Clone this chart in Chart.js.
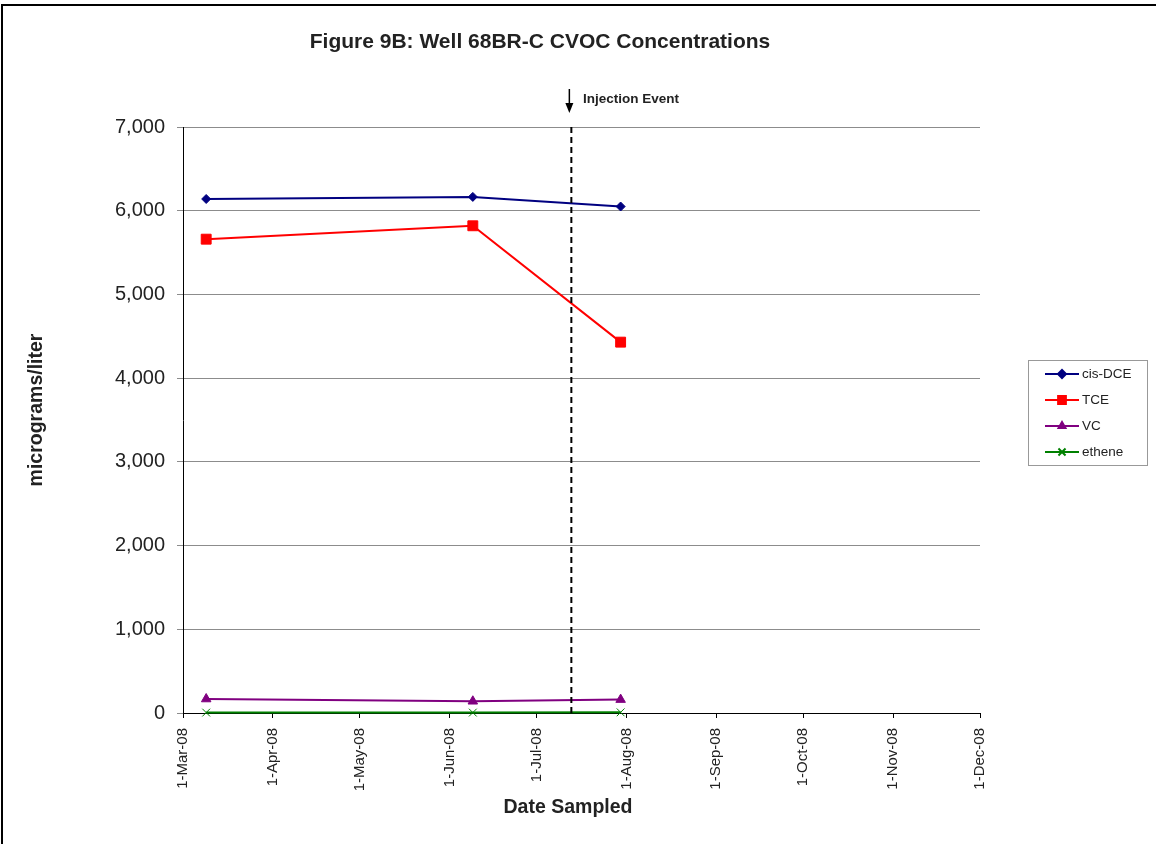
<!DOCTYPE html>
<html>
<head>
<meta charset="utf-8">
<script src="https://cdn.jsdelivr.net/npm/chart.js@4"></script>
<style>
  html, body { margin: 0; padding: 0; background: #fff; }
  #wrap { width: 1156px; height: 844px; }
</style>
</head>
<body>
<div id="wrap"><canvas id="chart-cvoc" width="1156" height="844"></canvas></div>
<script>
// Sampling dates and concentrations (ug/L)
var sampleDates = ['2008-03-09', '2008-06-09', '2008-07-30'];
var cisDCE = [6140, 6165, 6050];
var TCE = [5660, 5820, 4430];
var VC = [167, 140, 160];
var ethene = [5, 5, 8];

// Axis ticks
var monthTicks = ['2008-03-01', '2008-04-01', '2008-05-01', '2008-06-01', '2008-07-01',
                  '2008-08-01', '2008-09-01', '2008-10-01', '2008-11-01', '2008-12-01'];
var monthLabels = ['1-Mar-08', '1-Apr-08', '1-May-08', '1-Jun-08', '1-Jul-08',
                   '1-Aug-08', '1-Sep-08', '1-Oct-08', '1-Nov-08', '1-Dec-08'];
var injectionDate = '2008-07-13';

var FONT = '"Liberation Sans", Arial, sans-serif';

// days since 1-Mar-08, used as the linear x value
function dayOf(s) {
    var p = s.split('-');
    return (Date.UTC(+p[0], +p[1] - 1, +p[2]) - Date.UTC(2008, 2, 1)) / 86400000;
}
var tickDays = monthTicks.map(dayOf);
var sampleDays = sampleDates.map(dayOf);

function points(values) {
    return values.map(function (v, i) { return { x: sampleDays[i], y: v }; });
}

var seriesStyle = [
    { label: 'cis-DCE', data: cisDCE, color: '#000080', pointStyle: 'rectRot', radius: 4.5, legendRadius: 4 },
    { label: 'TCE', data: TCE, color: '#ff0000', pointStyle: 'rect', radius: 7, legendRadius: 5.5 },
    { label: 'VC', data: VC, color: '#800080', pointStyle: 'triangle', radius: 5.5, legendRadius: 4 },
    { label: 'ethene', data: ethene, color: '#008000', pointStyle: 'crossRot', radius: 5.5, legendRadius: 5 }
];

var decorations = {
    id: 'decorations',
    afterDatasetsDraw: function (chart) {
        var ctx = chart.ctx, area = chart.chartArea;
        var x = chart.scales.x.getPixelForValue(dayOf(injectionDate));
        ctx.save();
        ctx.strokeStyle = '#000';
        ctx.lineWidth = 2;
        ctx.setLineDash([6, 4]);
        ctx.beginPath();
        ctx.moveTo(x, area.top);
        ctx.lineTo(x, area.bottom);
        ctx.stroke();
        ctx.restore();
    },
    afterDraw: function (chart) {
        var ctx = chart.ctx;
        ctx.save();

        // outer frame
        ctx.strokeStyle = '#000';
        ctx.lineWidth = 2;
        ctx.strokeRect(2, 5, 1170, 860);

        // title
        ctx.fillStyle = '#222';
        ctx.textAlign = 'center';
        ctx.textBaseline = 'alphabetic';
        ctx.font = 'bold 21px ' + FONT;
        ctx.fillText('Figure 9B: Well 68BR-C CVOC Concentrations', 540, 48);

        // axis titles
        ctx.font = 'bold 19.5px ' + FONT;
        ctx.fillText('Date Sampled', 568, 813);
        ctx.save();
        ctx.translate(42, 410);
        ctx.rotate(-Math.PI / 2);
        ctx.fillText('micrograms/liter', 0, 0);
        ctx.restore();

        // injection arrow + label
        var ax = chart.scales.x.getPixelForValue(dayOf(injectionDate)) - 2;
        ctx.strokeStyle = '#000';
        ctx.fillStyle = '#000';
        ctx.lineWidth = 1.5;
        ctx.beginPath();
        ctx.moveTo(ax, 89);
        ctx.lineTo(ax, 105);
        ctx.stroke();
        ctx.beginPath();
        ctx.moveTo(ax - 4, 103);
        ctx.lineTo(ax + 4, 103);
        ctx.lineTo(ax, 113);
        ctx.closePath();
        ctx.fill();
        ctx.fillStyle = '#222';
        ctx.textAlign = 'left';
        ctx.font = 'bold 13.5px ' + FONT;
        ctx.fillText('Injection Event', 583, 103);

        // legend
        ctx.strokeStyle = '#999';
        ctx.lineWidth = 1;
        ctx.strokeRect(1028.5, 360.5, 119, 105);
        ctx.font = '13.5px ' + FONT;
        ctx.textBaseline = 'middle';
        seriesStyle.forEach(function (s, i) {
            var y = 374 + i * 26;
            ctx.strokeStyle = s.color;
            ctx.lineWidth = 2;
            ctx.beginPath();
            ctx.moveTo(1045, y);
            ctx.lineTo(1079, y);
            ctx.stroke();
            ctx.fillStyle = s.color;
            Chart.helpers.drawPoint(ctx, {
                pointStyle: s.pointStyle, radius: s.legendRadius, borderWidth: 1, rotation: 0
            }, 1062, y);
            ctx.fillStyle = '#222';
            ctx.fillText(s.label, 1082, y);
        });
        ctx.restore();
    }
};

var ctx = document.getElementById('chart-cvoc').getContext('2d');
new Chart(ctx, {
    type: 'line',
    data: {
        datasets: seriesStyle.map(function (s) {
            return {
                label: s.label,
                data: points(s.data),
                borderColor: s.color,
                backgroundColor: s.color,
                borderWidth: 2,
                pointStyle: s.pointStyle,
                pointRadius: s.radius,
                pointBorderWidth: 1,
                pointHoverRadius: s.radius,
                fill: false,
                tension: 0,
                clip: false
            };
        }).reverse()
    },
    options: {
        responsive: false,
        animation: false,
        devicePixelRatio: 1,
        layout: { padding: { left: 0, top: 127, right: 176, bottom: 0 } },
        plugins: {
            legend: { display: false },
            title: { display: false },
            tooltip: { enabled: false }
        },
        scales: {
            x: {
                type: 'linear',
                min: tickDays[0],
                max: tickDays[tickDays.length - 1],
                afterBuildTicks: function (scale) {
                    scale.ticks = tickDays.map(function (d) { return { value: d }; });
                },
                afterFit: function (scale) { scale.height = 131; },
                grid: {
                    display: true,
                    drawOnChartArea: false,
                    drawTicks: true,
                    tickLength: 5,
                    tickColor: '#000'
                },
                border: { display: true, color: '#000', width: 1 },
                ticks: {
                    autoSkip: false,
                    minRotation: 90,
                    maxRotation: 90,
                    padding: 10,
                    color: '#222',
                    font: { size: 15, family: FONT },
                    callback: function (value) {
                        var i = tickDays.indexOf(value);
                        return i >= 0 ? monthLabels[i] : '';
                    }
                }
            },
            y: {
                min: 0,
                max: 7000,
                afterFit: function (scale) { scale.width = 183; },
                grid: {
                    color: '#8c8c8c',
                    tickColor: '#8c8c8c',
                    tickLength: 6,
                    lineWidth: 1
                },
                border: { display: true, color: '#000', width: 1 },
                ticks: {
                    stepSize: 1000,
                    padding: 12,
                    color: '#222',
                    font: { size: 20, family: FONT },
                    callback: function (value) { return value.toLocaleString('en-US'); }
                }
            }
        }
    },
    plugins: [decorations]
});
</script>
</body>
</html>
